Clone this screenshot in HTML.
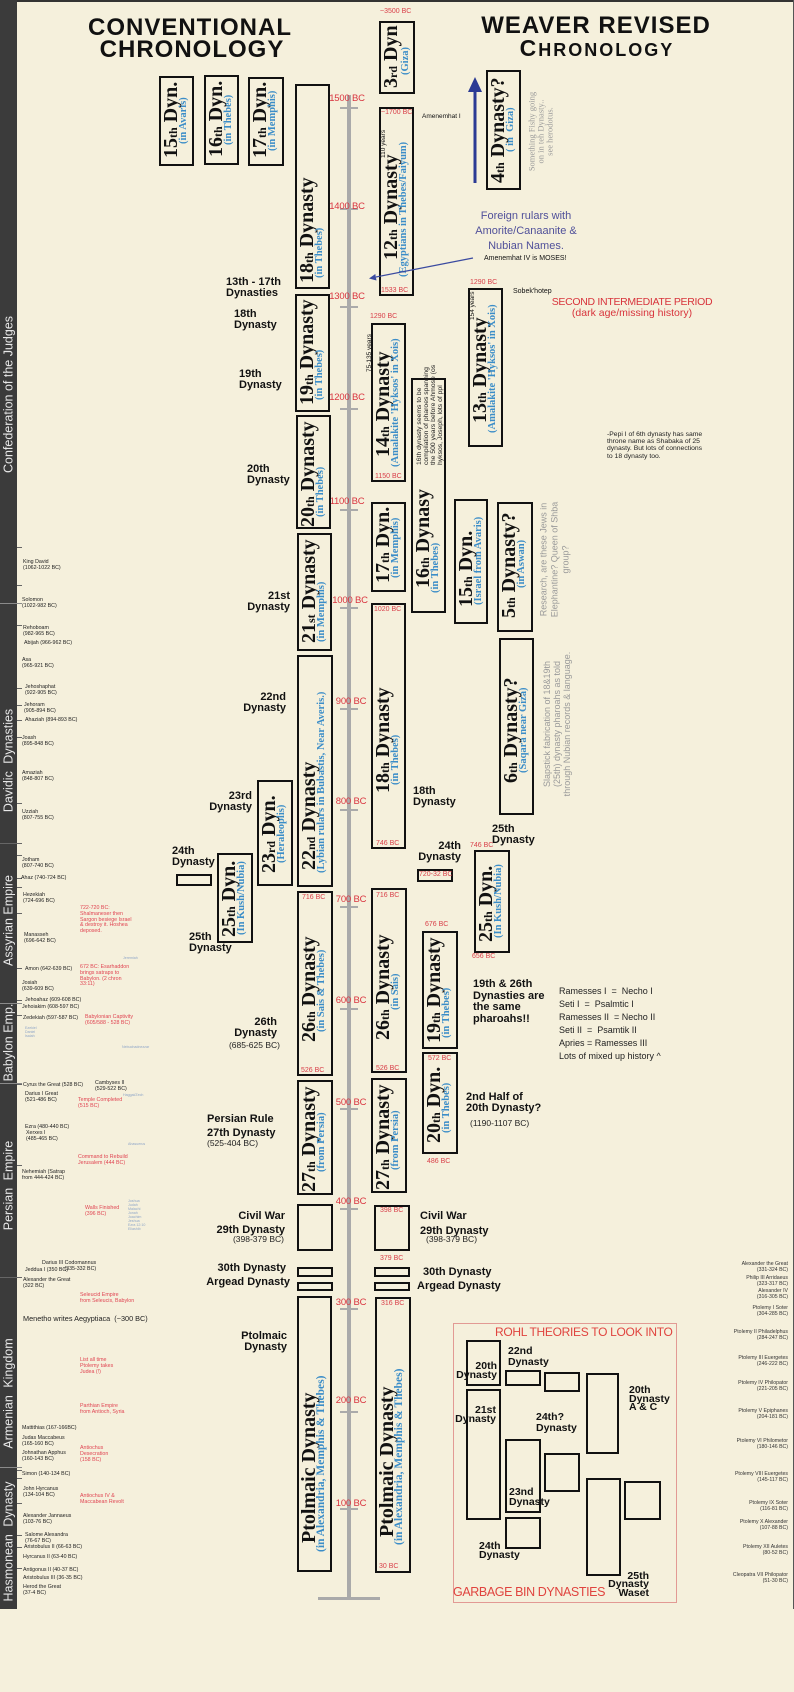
<!DOCTYPE html>
<html><head><meta charset="utf-8">
<style>
*{margin:0;padding:0}
body{width:794px;height:1609px;position:relative;overflow:hidden;background:#f5f0dc;font-family:"Liberation Sans",sans-serif;color:#111}
.a{position:absolute;white-space:nowrap}
.box{position:absolute;border:2px solid #111;box-sizing:border-box}
.rb{position:absolute;border:2px solid #111;box-sizing:border-box;transform-origin:0 0;transform:rotate(-90deg)}
.rb .m{position:absolute;top:0;font:bold 20px/20px "Liberation Serif",serif;white-space:nowrap;color:#111}
.rb .m small{font-size:12px}
.rb .s{position:absolute;top:18px;font:bold 10.5px/10.5px "Liberation Serif",serif;white-space:nowrap;color:#3b8dc8}
.yl{position:absolute;width:60px;text-align:center;font-size:9.5px;line-height:10px;color:#d9343f;letter-spacing:-0.2px}
.tk{position:absolute;left:340px;width:18px;height:2px;background:#aaa}
.rd{position:absolute;font-size:7px;line-height:8px;color:#d9404a;white-space:nowrap}
.lb{position:absolute;font-weight:bold;font-size:11px;line-height:11px;white-space:nowrap;color:#111}
.pr{position:absolute;font-size:8.5px;line-height:9px;white-space:nowrap;color:#222}
.sb{position:absolute;width:300px;height:15px;line-height:15px;text-align:center;color:#e8e8e8;font-size:12.5px;transform:rotate(-90deg);white-space:nowrap}
.sep{position:absolute;left:0;width:22px;height:1px;background:#8a8a8a}
.lt{position:absolute;left:17px;width:5px;height:1px;background:#666}
.k{position:absolute;font-size:5.3px;line-height:5.8px;color:#222;white-space:nowrap}
.kr{position:absolute;font-size:5.3px;line-height:5.8px;color:#e04452;white-space:nowrap}
.kb{position:absolute;font-size:3.6px;line-height:4px;color:#8fa6c8;white-space:nowrap}
.pt{position:absolute;right:6px;font-size:5.2px;line-height:5.6px;color:#333;text-align:right;white-space:nowrap}
.gr{position:absolute;color:#9a9a9a;text-align:center;white-space:nowrap;transform:rotate(-90deg)}
.rr{position:absolute;white-space:nowrap;transform-origin:0 0;transform:rotate(-90deg)}
.ro{position:absolute;font-weight:bold;font-size:10.5px;line-height:9px;white-space:nowrap;color:#111}
</style></head><body>

<!-- frame -->
<div class="a" style="left:0;top:0;width:794px;height:2px;background:#333"></div>
<div class="a" style="left:793px;top:0;width:1px;height:1609px;background:#555"></div>

<!-- sidebar -->
<div class="a" style="left:0;top:0;width:17px;height:1609px;background:#3b3b3b"></div>
<div class="sep" style="top:603px"></div>
<div class="sep" style="top:843px;background:#666"></div>
<div class="sep" style="top:1003px"></div>
<div class="sep" style="top:1083px"></div>
<div class="sep" style="top:1277px;background:#666"></div>
<div class="sep" style="top:1467px"></div>
<div class="sb" style="left:-141px;top:387px">Confederation of the Judges</div>
<div class="sb" style="left:-141px;top:753px;word-spacing:4px">Davidic Dynasties</div>
<div class="sb" style="left:-141px;top:913px">Assyrian Empire</div>
<div class="sb" style="left:-141px;top:1035px">Babylon Emp.</div>
<div class="sb" style="left:-141px;top:1178px;word-spacing:4px">Persian Empire</div>
<div class="sb" style="left:-141px;top:1386px;word-spacing:4px">Armenian Kingdom</div>
<div class="sb" style="left:-141px;top:1534px;word-spacing:4px">Hasmonean Dynasty</div>

<!-- left small ticks -->
<div class="lt" style="top:547px"></div><div class="lt" style="top:585px"></div><div class="lt" style="top:625px"></div>
<div class="lt" style="top:688px"></div><div class="lt" style="top:705px"></div><div class="lt" style="top:720px"></div>
<div class="lt" style="top:737px"></div><div class="lt" style="top:803px"></div><div class="lt" style="top:855px"></div>
<div class="lt" style="top:878px"></div><div class="lt" style="top:887px"></div><div class="lt" style="top:913px"></div>
<div class="lt" style="top:968px"></div><div class="lt" style="top:1000px"></div><div class="lt" style="top:1015px"></div>
<div class="lt" style="top:1084px"></div><div class="lt" style="top:1165px"></div><div class="lt" style="top:1470px"></div>
<div class="lt" style="top:1478px"></div><div class="lt" style="top:1503px"></div><div class="lt" style="top:1535px"></div>
<div class="lt" style="top:1547px"></div><div class="lt" style="top:1568px"></div>

<!-- titles -->
<div class="a" style="left:0;width:380px;top:16px;text-align:center;font-weight:bold;font-size:24px;line-height:24px;letter-spacing:1px">CONVENTIONAL</div>
<div class="a" style="left:2px;width:380px;top:38px;text-align:center;font-weight:bold;font-size:24px;line-height:24px;letter-spacing:1px">CHRONOLOGY</div>
<div class="a" style="left:396px;width:400px;top:14px;text-align:center;font-weight:bold;font-size:24px;line-height:24px;letter-spacing:1px">WEAVER REVISED</div>
<div class="a" style="left:397px;width:400px;top:36px;text-align:center;font-weight:bold;font-size:18px;line-height:24px;letter-spacing:2px"><span style="font-size:23px">C</span>HRONOLOGY</div>

<!-- axis -->
<div class="a" style="left:347px;top:95px;width:4px;height:1505px;background:#aaa"></div>
<div class="a" style="left:318px;top:1597px;width:62px;height:3px;background:#aaa"></div>
<div class="tk" style="top:107px"></div><div class="tk" style="top:208px"></div><div class="tk" style="top:306px"></div>
<div class="tk" style="top:408px"></div><div class="tk" style="top:509px"></div><div class="tk" style="top:607px"></div>
<div class="tk" style="top:708px"></div><div class="tk" style="top:809px"></div><div class="tk" style="top:906px"></div>
<div class="tk" style="top:1008px"></div><div class="tk" style="top:1108px"></div><div class="tk" style="top:1208px"></div>
<div class="tk" style="top:1308px"></div><div class="tk" style="top:1411px"></div><div class="tk" style="top:1508px"></div>
<div class="yl" style="left:317px;top:94px">1500 BC</div>
<div class="yl" style="left:317px;top:202px">1400 BC</div>
<div class="yl" style="left:317px;top:292px">1300 BC</div>
<div class="yl" style="left:317px;top:393px">1200 BC</div>
<div class="yl" style="left:317px;top:497px">1100 BC</div>
<div class="yl" style="left:320px;top:596px">1000 BC</div>
<div class="yl" style="left:321px;top:697px">900 BC</div>
<div class="yl" style="left:321px;top:797px">800 BC</div>
<div class="yl" style="left:321px;top:895px">700 BC</div>
<div class="yl" style="left:321px;top:996px">600 BC</div>
<div class="yl" style="left:321px;top:1098px">500 BC</div>
<div class="yl" style="left:321px;top:1197px">400 BC</div>
<div class="yl" style="left:321px;top:1298px">300 BC</div>
<div class="yl" style="left:321px;top:1396px">200 BC</div>
<div class="yl" style="left:321px;top:1499px">100 BC</div>

<!-- CONVENTIONAL rotated boxes -->
<div class="rb" style="left:159px;top:166px;width:90px;height:35px"><span class="m" style="left:6px">15<small>th</small> Dyn.</span><span class="s" style="left:20px">(in Avaris)</span></div>
<div class="rb" style="left:204px;top:165px;width:90px;height:35px"><span class="m" style="left:6px">16<small>th</small> Dyn.</span><span class="s" style="left:18px">(in Thebes)</span></div>
<div class="rb" style="left:248px;top:166px;width:89px;height:36px"><span class="m" style="left:6px">17<small>th</small> Dyn.</span><span class="s" style="left:13px">(in Memphis)</span></div>
<div class="rb" style="left:295px;top:289px;width:205px;height:35px"><span class="m" style="left:4px">18<small>th</small> Dynasty</span><span class="s" style="left:9px">(in Thebes)</span></div>
<div class="rb" style="left:295px;top:412px;width:118px;height:35px"><span class="m" style="left:5px">19<small>th</small> Dynasty</span><span class="s" style="left:10px">(in Thebes)</span></div>
<div class="rb" style="left:296px;top:529px;width:114px;height:35px"><span class="m" style="left:0px">20<small>th</small> Dynasty</span><span class="s" style="left:10px">(in Thebes)</span></div>
<div class="rb" style="left:297px;top:651px;width:118px;height:35px"><span class="m" style="left:6px">21<small>st</small> Dynasty</span><span class="s" style="left:7px">(in Memphis)</span></div>
<div class="rb" style="left:297px;top:887px;width:232px;height:36px"><span class="m" style="left:15px">22<small>nd</small> Dynasty</span><span class="s" style="left:12px">(Lybian rulars in Bubastis, Near Averis.)</span></div>
<div class="rb" style="left:257px;top:886px;width:106px;height:36px"><span class="m" style="left:11px">23<small>rd</small> Dyn.</span><span class="s" style="left:21px">(Heraleoplis)</span></div>
<div class="rb" style="left:217px;top:943px;width:90px;height:36px"><span class="m" style="left:4px">25<small>th</small> Dyn.</span><span class="s" style="left:6px">(In Kush/Nubia)</span></div>
<div class="rb" style="left:297px;top:1076px;width:185px;height:36px"><span class="m" style="left:32px">26<small>th</small> Dynasty</span><span class="s" style="left:42px">(in Sais &amp; Thebes)</span></div>
<div class="rb" style="left:297px;top:1195px;width:115px;height:36px"><span class="m" style="left:1px">27<small>th</small> Dynasty</span><span class="s" style="left:21px">(from Persia)</span></div>
<div class="rb" style="left:297px;top:1572px;width:276px;height:35px"><span class="m" style="left:27px">Ptolmaic Dynasty</span><span class="s" style="left:18px;font-size:11.5px;top:17px">(in Alexandria, Memphis &amp; Thebes)</span></div>

<!-- conventional plain boxes -->
<div class="box" style="left:176px;top:874px;width:36px;height:12px"></div>
<div class="box" style="left:297px;top:1204px;width:36px;height:47px"></div>
<div class="box" style="left:297px;top:1267px;width:36px;height:10px"></div>
<div class="box" style="left:297px;top:1282px;width:36px;height:9px"></div>

<!-- WEAVER rotated boxes -->
<div class="rb" style="left:379px;top:94px;width:73px;height:36px"><span class="m" style="left:4px">3<small>rd</small> Dyn</span><span class="s" style="left:17px;top:20px">(Giza)</span></div>
<div class="rb" style="left:379px;top:296px;width:189px;height:35px"><span class="m" style="left:34px">12<small>th</small> Dynasty</span><span class="s" style="left:17px">(Egyptians in Thebes/Faiyum)</span></div>
<div class="rb" style="left:486px;top:190px;width:120px;height:35px"><span class="m" style="left:5px">4<small>th</small> Dynasty?</span><span class="s" style="left:36px">( in &nbsp;Giza)</span></div>
<div class="rb" style="left:468px;top:447px;width:159px;height:35px"><span class="m" style="left:22px">13<small>th</small> Dynasty</span><span class="s" style="left:12px">(Amalakite 'Hyksos' in Xois)</span></div>
<div class="rb" style="left:371px;top:482px;width:159px;height:35px"><span class="m" style="left:23px">14<small>th</small> Dynasty</span><span class="s" style="left:13px">(Amalakite 'Hyksos' in Xois)</span></div>
<div class="rb" style="left:411px;top:613px;width:235px;height:35px"><span class="m" style="left:23px">16<small>th</small> Dynasy</span><span class="s" style="left:18px">(in Thebes)</span></div>
<div class="rb" style="left:371px;top:592px;width:90px;height:35px"><span class="m" style="left:7px">17<small>th</small> Dyn.</span><span class="s" style="left:12px">(in Memphis)</span></div>
<div class="rb" style="left:454px;top:624px;width:125px;height:34px"><span class="m" style="left:15px">15<small>th</small> Dyn.</span><span class="s" style="left:17px">(Israel from Avaris)</span></div>
<div class="rb" style="left:497px;top:632px;width:130px;height:36px"><span class="m" style="left:12px">5<small>th</small> Dynasty?</span><span class="s" style="left:42px">(in Aswan)</span></div>
<div class="rb" style="left:371px;top:849px;width:246px;height:35px"><span class="m" style="left:54px">18<small>th</small> Dynasty</span><span class="s" style="left:62px">(in Thebes)</span></div>
<div class="rb" style="left:499px;top:815px;width:177px;height:35px"><span class="m" style="left:30px">6<small>th</small> Dynasty?</span><span class="s" style="left:40px">(Saqara near Giza)</span></div>
<div class="rb" style="left:474px;top:953px;width:103px;height:36px"><span class="m" style="left:9px">25<small>th</small> Dyn.</span><span class="s" style="left:13px">(In Kush/Nubia)</span></div>
<div class="rb" style="left:371px;top:1073px;width:185px;height:36px"><span class="m" style="left:31px">26<small>th</small> Dynasty</span><span class="s" style="left:61px">(in Sais)</span></div>
<div class="rb" style="left:422px;top:1049px;width:118px;height:36px"><span class="m" style="left:4px">19<small>th</small> Dynasty</span><span class="s" style="left:9px">(in Thebes)</span></div>
<div class="rb" style="left:422px;top:1154px;width:102px;height:36px"><span class="m" style="left:9px">20<small>th</small> Dyn.</span><span class="s" style="left:19px">(in Thebes)</span></div>
<div class="rb" style="left:371px;top:1193px;width:115px;height:36px"><span class="m" style="left:1px">27<small>th</small> Dynasty</span><span class="s" style="left:21px">(from Persia)</span></div>
<div class="rb" style="left:375px;top:1573px;width:276px;height:36px"><span class="m" style="left:34px">Ptolmaic Dynasty</span><span class="s" style="left:26px;font-size:11.5px;top:17px">(in Alexandria, Memphis &amp; Thebes)</span></div>

<!-- weaver plain boxes -->
<div class="box" style="left:417px;top:869px;width:36px;height:13px"></div>
<div class="box" style="left:374px;top:1205px;width:36px;height:46px"></div>
<div class="box" style="left:374px;top:1267px;width:36px;height:10px"></div>
<div class="box" style="left:374px;top:1282px;width:36px;height:9px"></div>

<!-- red year labels -->
<div class="rd" style="left:380px;top:8px">~3500 BC</div>
<div class="rd" style="left:381px;top:109px">~1700 BC</div>
<div class="rd" style="left:381px;top:287px">1533 BC</div>
<div class="rd" style="left:470px;top:279px">1290 BC</div>
<div class="rd" style="left:370px;top:313px">1290 BC</div>
<div class="rd" style="left:375px;top:473px">1150 BC</div>
<div class="rd" style="left:374px;top:606px">1020 BC</div>
<div class="rd" style="left:376px;top:840px">746 BC</div>
<div class="rd" style="left:470px;top:842px">746 BC</div>
<div class="rd" style="left:419px;top:871px">720-32 BC</div>
<div class="rd" style="left:302px;top:894px">716 BC</div>
<div class="rd" style="left:376px;top:892px">716 BC</div>
<div class="rd" style="left:425px;top:921px">676 BC</div>
<div class="rd" style="left:472px;top:953px">656 BC</div>
<div class="rd" style="left:301px;top:1067px">526 BC</div>
<div class="rd" style="left:376px;top:1065px">526 BC</div>
<div class="rd" style="left:428px;top:1055px">572 BC</div>
<div class="rd" style="left:427px;top:1158px">486 BC</div>
<div class="rd" style="left:380px;top:1207px">398 BC</div>
<div class="rd" style="left:380px;top:1255px">379 BC</div>
<div class="rd" style="left:381px;top:1300px">316 BC</div>
<div class="rd" style="left:379px;top:1563px">30 BC</div>

<!-- conventional labels -->
<div class="lb" style="left:226px;top:277px">13th - 17th<br>Dynasties</div>
<div class="lb" style="left:234px;top:309px">18th<br>Dynasty</div>
<div class="lb" style="left:239px;top:369px">19th<br>Dynasty</div>
<div class="lb" style="left:247px;top:464px">20th<br>Dynasty</div>
<div class="lb" style="right:504px;top:591px;text-align:right">21st<br>Dynasty</div>
<div class="lb" style="right:508px;top:692px;text-align:right">22nd<br>Dynasty</div>
<div class="lb" style="right:542px;top:791px;text-align:right">23rd<br>Dynasty</div>
<div class="lb" style="left:172px;top:846px">24th<br>Dynasty</div>
<div class="lb" style="left:189px;top:932px">25th<br>Dynasty</div>
<div class="lb" style="right:517px;top:1017px;text-align:right">26th<br>Dynasty</div>
<div class="pr" style="right:514px;top:1041px">(685-625 BC)</div>
<div class="lb" style="left:207px;top:1112px;line-height:14px">Persian Rule<br>27th Dynasty</div>
<div class="pr" style="left:207px;top:1139px">(525-404 BC)</div>
<div class="lb" style="right:509px;top:1209px;line-height:14px;text-align:right">Civil War<br>29th Dynasty</div>
<div class="pr" style="right:510px;top:1235px">(398-379 BC)</div>
<div class="lb" style="right:508px;top:1263px">30th Dynasty</div>
<div class="lb" style="right:504px;top:1277px">Argead Dynasty</div>
<div class="lb" style="right:507px;top:1331px;text-align:right">Ptolmaic<br>Dynasty</div>

<!-- weaver labels -->
<div class="lb" style="left:413px;top:786px">18th<br>Dynasty</div>
<div class="lb" style="right:333px;top:841px;text-align:right">24th<br>Dynasty</div>
<div class="lb" style="left:492px;top:824px">25th<br>Dynasty</div>
<div class="lb" style="left:473px;top:979px;line-height:11.5px">19th &amp; 26th<br>Dynasties are<br>the same<br>pharoahs!!</div>
<div class="lb" style="left:466px;top:1092px">2nd Half of<br>20th Dynasty?</div>
<div class="pr" style="left:470px;top:1119px">(1190-1107 BC)</div>
<div class="lb" style="left:420px;top:1209px;line-height:15px">Civil War<br>29th Dynasty</div>
<div class="pr" style="left:426px;top:1235px">(398-379 BC)</div>
<div class="lb" style="left:423px;top:1267px">30th Dynasty</div>
<div class="lb" style="left:417px;top:1281px">Argead Dynasty</div>

<div class="a" style="left:559px;top:985px;font-size:9px;line-height:13px;color:#222">Ramesses I &nbsp;= &nbsp;Necho I<br>Seti I &nbsp;= &nbsp;Psalmtic I<br>Ramesses II &nbsp;= Necho II<br>Seti II &nbsp;= &nbsp;Psamtik II<br>Apries = Ramesses III<br>Lots of mixed up history ^</div>

<!-- notes -->
<div class="a" style="left:422px;top:113px;font-size:6.5px;line-height:8px">Amenemhat I</div>
<div class="a" style="left:436px;top:209px;width:180px;text-align:center;font-size:11px;line-height:15px;color:#50509a">Foreign rulars with<br>Amorite/Canaanite &amp;<br>Nubian Names.</div>
<div class="a" style="left:484px;top:255px;font-size:7px;line-height:8px">Amenemhat IV is MOSES!</div>
<div class="a" style="left:513px;top:288px;font-size:7px;line-height:8px">Sobek'hotep</div>
<div class="a" style="left:532px;top:297px;width:200px;text-align:center;font-size:10.5px;line-height:10.5px;color:#d8343c;letter-spacing:-0.3px">SECOND INTERMEDIATE PERIOD<br><span style="letter-spacing:0">(dark age/missing history)</span></div>
<div class="a" style="left:607px;top:431px;font-size:6.8px;line-height:7.2px;color:#222">-Pepi I of 6th dynasty has same<br>throne name as Shabaka of 25<br>dynasty. But lots of connections<br>to 18 dynasty too.</div>

<!-- rotated gray notes -->
<div class="gr" style="left:491px;top:118px;width:100px;height:27px;font:8.5px/9px 'Liberation Serif',serif">Something Fishy going<br>on in teh Dynasty..<br>see herodotus.</div>
<div class="gr" style="left:492px;top:543px;width:126px;height:33px;font-size:9px;line-height:11px">Research, are these Jews in<br>Elephantine? Queen of Shba<br>group?</div>
<div class="gr" style="left:477px;top:709px;width:160px;height:30px;font-size:9px;line-height:10px">Slapstick fabrication of 18&amp;19th<br>(25th) dynasty pharoahs as told<br>through Nubian records &amp; language.</div>
<div class="rr" style="left:416px;top:465px;width:120px;height:28px;font-size:6.8px;line-height:7px;color:#222">16th dynasty seems to be<br>compilation of pharoes spanning<br>the 500 years before Ahmose (os<br>hyksos, Joseph, lots of ppl</div>
<div class="rr" style="left:380px;top:158px;width:30px;height:8px;font-size:6.5px;line-height:8px">110 years</div>
<div class="rr" style="left:469px;top:320px;width:30px;height:8px;font-size:6.5px;line-height:8px">154 years</div>
<div class="rr" style="left:366px;top:372px;width:50px;height:8px;font-size:6.5px;line-height:8px">75-135 years</div>

<!-- arrows -->
<svg class="a" style="left:0;top:0" width="794" height="1609" viewBox="0 0 794 1609">
<line x1="475" y1="183" x2="475" y2="88" stroke="#2b3a94" stroke-width="3"/>
<polygon points="468,92 482,92 475,77" fill="#2b3a94"/>
<line x1="473" y1="258" x2="376" y2="277" stroke="#3a4aa0" stroke-width="1.2"/>
<polygon points="369,278.5 376.5,280.5 375.3,274" fill="#3a4aa0"/>
</svg>

<!-- ROHL -->
<div class="a" style="left:453px;top:1323px;width:222px;height:278px;border:1px solid #e29a94"></div>
<div class="a" style="left:495px;top:1325px;font-size:12px;line-height:14px;color:#e0443f;letter-spacing:-0.3px">ROHL THEORIES TO LOOK INTO</div>
<div class="a" style="left:453px;top:1585px;font-size:12.5px;line-height:15px;color:#e0443f;letter-spacing:-0.4px">GARBAGE BIN DYNASTIES</div>
<div class="box" style="left:466px;top:1340px;width:35px;height:46px"></div>
<div class="box" style="left:466px;top:1389px;width:35px;height:131px"></div>
<div class="box" style="left:505px;top:1370px;width:36px;height:16px"></div>
<div class="box" style="left:544px;top:1372px;width:36px;height:20px"></div>
<div class="box" style="left:586px;top:1373px;width:33px;height:81px"></div>
<div class="box" style="left:505px;top:1439px;width:36px;height:74px"></div>
<div class="box" style="left:544px;top:1453px;width:36px;height:39px"></div>
<div class="box" style="left:505px;top:1517px;width:36px;height:32px"></div>
<div class="box" style="left:586px;top:1478px;width:35px;height:98px"></div>
<div class="box" style="left:624px;top:1481px;width:37px;height:39px"></div>
<div class="ro" style="right:297px;top:1362px;text-align:right">20th<br>Dynasty</div>
<div class="ro" style="right:298px;top:1406px;text-align:right">21st<br>Dynasty</div>
<div class="ro" style="left:508px;top:1346px;line-height:11px">22nd<br>Dynasty</div>
<div class="ro" style="left:536px;top:1412px;line-height:11px">24th?<br>Dynasty</div>
<div class="ro" style="left:629px;top:1386px;line-height:8.5px">20th<br>Dynasty<br>A &amp; C</div>
<div class="ro" style="left:509px;top:1487px;line-height:10px">23nd<br>Dynasty</div>
<div class="ro" style="left:479px;top:1542px">24th<br>Dynasty</div>
<div class="ro" style="right:145px;top:1572px;line-height:8.3px;text-align:right">25th<br>Dynasty<br>Waset</div>

<!-- left king list -->
<div class="k" style="left:23px;top:560px">King David<br>(1062-1022 BC)</div>
<div class="k" style="left:22px;top:598px">Solomon<br>(1022-982 BC)</div>
<div class="k" style="left:23px;top:626px">Rehoboam<br>(982-965 BC)</div>
<div class="k" style="left:24px;top:641px">Abijah (966-962 BC)</div>
<div class="k" style="left:22px;top:658px">Asa<br>(965-921 BC)</div>
<div class="k" style="left:25px;top:685px">Jehoshaphat<br>(922-905 BC)</div>
<div class="k" style="left:24px;top:703px">Jehoram<br>(905-894 BC)</div>
<div class="k" style="left:25px;top:718px">Ahaziah (894-893 BC)</div>
<div class="k" style="left:22px;top:736px">Joash<br>(895-848 BC)</div>
<div class="k" style="left:22px;top:771px">Amaziah<br>(848-807 BC)</div>
<div class="k" style="left:22px;top:810px">Uzziah<br>(807-755 BC)</div>
<div class="k" style="left:22px;top:858px">Jotham<br>(807-740 BC)</div>
<div class="k" style="left:21px;top:876px">Ahaz (740-724 BC)</div>
<div class="k" style="left:23px;top:893px">Hezekiah<br>(724-696 BC)</div>
<div class="k" style="left:24px;top:933px">Manasseh<br>(696-642 BC)</div>
<div class="k" style="left:25px;top:967px">Amon (642-639 BC)</div>
<div class="k" style="left:22px;top:981px">Josiah<br>(639-609 BC)</div>
<div class="k" style="left:25px;top:998px">Jehoahaz (609-608 BC)</div>
<div class="k" style="left:22px;top:1005px">Jehoiakim (608-597 BC)</div>
<div class="k" style="left:23px;top:1016px">Zedekiah (597-587 BC)</div>
<div class="k" style="left:23px;top:1083px">Cyrus the Great (528 BC)</div>
<div class="k" style="left:95px;top:1081px">Cambyses II<br>(529-522 BC)</div>
<div class="k" style="left:25px;top:1092px">Darius I Great<br>(521-486 BC)</div>
<div class="k" style="left:25px;top:1125px">Ezra (480-440 BC)</div>
<div class="k" style="left:26px;top:1131px">Xerxes I<br>(485-465 BC)</div>
<div class="k" style="left:22px;top:1170px">Nehemiah (Satrap<br>from 444-424 BC)</div>
<div class="k" style="left:42px;top:1261px;text-align:right">Darius III Codomannus<br>(335-332 BC)</div>
<div class="k" style="left:25px;top:1268px">Jeddua I (350 BC)</div>
<div class="k" style="left:23px;top:1278px">Alexander the Great<br>(322 BC)</div>
<div class="a" style="left:23px;top:1315px;font-size:7.3px;line-height:8px;color:#222">Menetho writes Aegyptiaca &nbsp;(~300 BC)</div>
<div class="k" style="left:22px;top:1426px">Mattithias (167-166BC)</div>
<div class="k" style="left:22px;top:1436px">Judas Maccabeus<br>(165-160 BC)</div>
<div class="k" style="left:22px;top:1451px">Johnathan Apphus<br>(160-143 BC)</div>
<div class="k" style="left:22px;top:1472px">Simon (140-134 BC)</div>
<div class="k" style="left:23px;top:1487px">John Hyrcanus<br>(134-104 BC)</div>
<div class="k" style="left:23px;top:1514px">Alexander Jannaeus<br>(103-76 BC)</div>
<div class="k" style="left:25px;top:1533px">Salome Alexandra<br>(76-67 BC)</div>
<div class="k" style="left:24px;top:1545px">Aristobulus II (66-63 BC)</div>
<div class="k" style="left:23px;top:1555px">Hyrcanus II (63-40 BC)</div>
<div class="k" style="left:23px;top:1568px">Antigonus II (40-37 BC)</div>
<div class="k" style="left:23px;top:1576px">Aristobulus III (36-35 BC)</div>
<div class="k" style="left:23px;top:1585px">Herod the Great<br>(37-4 BC)</div>

<div class="kr" style="left:80px;top:906px">722-720 BC:<br>Shalmaneser then<br>Sargon besiege Israel<br>&amp; destroy it. Hoshea<br>deposed.</div>
<div class="kr" style="left:80px;top:965px">672 BC: Esarhaddon<br>brings satraps to<br>Babylon. (2 chron<br>33:11)</div>
<div class="kr" style="left:85px;top:1015px">Babylonian Captivity<br>(605/588 - 528 BC)</div>
<div class="kr" style="left:78px;top:1098px">Temple Completed<br>(515 BC)</div>
<div class="kr" style="left:78px;top:1155px">Command to Rebuild<br>Jerusalem (444 BC)</div>
<div class="kr" style="left:85px;top:1206px">Walls Finished<br>(396 BC)</div>
<div class="kr" style="left:80px;top:1293px">Seleucid Empire<br>from Seleucis, Babylon</div>
<div class="kr" style="left:80px;top:1358px">List all time<br>Ptolemy takes<br>Judea (!)</div>
<div class="kr" style="left:80px;top:1404px">Parthian Empire<br>from Antioch, Syria</div>
<div class="kr" style="left:80px;top:1446px">Antiochus<br>Desecration<br>(158 BC)</div>
<div class="kr" style="left:80px;top:1494px">Antiochus IV &amp;<br>Maccabean Revolt</div>

<div class="kb" style="left:123px;top:956px">Jeremiah</div>
<div class="kb" style="left:25px;top:1026px">Ezekiel<br>Daniel<br>Isaiah</div>
<div class="kb" style="left:122px;top:1045px">Nebuchadnezzar</div>
<div class="kb" style="left:123px;top:1093px">Haggai/Zech</div>
<div class="kb" style="left:128px;top:1142px">Ahasuerus</div>
<div class="kb" style="left:128px;top:1199px">Joshua<br>Judah<br>Malachi<br>Jonah<br>Joachim<br>Jeshua<br>Ezra 12:10<br>Eliashib</div>

<!-- right Ptolemy list -->
<div class="pt" style="top:1262px">Alexander the Great<br>(331-324 BC)</div>
<div class="pt" style="top:1276px">Philip III Arridaeus<br>(323-317 BC)</div>
<div class="pt" style="top:1289px">Alexander IV<br>(316-305 BC)</div>
<div class="pt" style="top:1306px">Ptolemy I Soter<br>(304-285 BC)</div>
<div class="pt" style="top:1330px">Ptolemy II Philadelphus<br>(284-247 BC)</div>
<div class="pt" style="top:1356px">Ptolemy III Euergetes<br>(246-222 BC)</div>
<div class="pt" style="top:1381px">Ptolemy IV Philopator<br>(221-205 BC)</div>
<div class="pt" style="top:1409px">Ptolemy V Epiphanes<br>(204-181 BC)</div>
<div class="pt" style="top:1439px">Ptolemy VI Philometor<br>(180-146 BC)</div>
<div class="pt" style="top:1472px">Ptolemy VIII Euergetes<br>(145-117 BC)</div>
<div class="pt" style="top:1501px">Ptolemy IX Soter<br>(116-81 BC)</div>
<div class="pt" style="top:1520px">Ptolemy X Alexander<br>(107-88 BC)</div>
<div class="pt" style="top:1545px">Ptolemy XII Auletes<br>(80-52 BC)</div>
<div class="pt" style="top:1573px">Cleopatra VII Philopator<br>(51-30 BC)</div>

</body></html>
